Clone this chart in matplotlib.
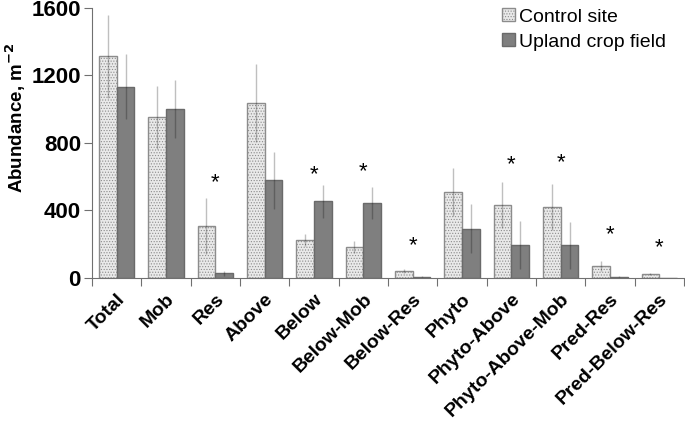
import numpy as np
import matplotlib.pyplot as plt
import matplotlib.transforms as mtransforms

plt.rcParams['font.family'] = ['Liberation Sans', 'DejaVu Sans']
plt.rcParams['hatch.color'] = '#cccccc'
plt.rcParams['hatch.linewidth'] = 0.5

groups = ['Total', 'Mob', 'Res', 'Above', 'Below', 'Below-Mob', 'Below-Res',
          'Phyto', 'Phyto-Above', 'Phyto-Above-Mob', 'Pred-Res', 'Pred-Below-Res']
control = [1314, 952, 310, 1037, 225, 186, 43, 508, 431, 419, 71, 24]
control_err = [245, 187, 165, 232, 34, 35, 12, 143, 135, 137, 30, 6]
upland = [1134, 1003, 28, 579, 454, 444, 8, 292, 197, 194, 6, 0]
upland_err = [193, 172, 14, 170, 99, 97, 4, 146, 142, 140, 3, 0]
# y position of the significance asterisk (None = no star)
star_y = [None, None, 563, None, 615, 628, 190, None, 670, 686, 255, 182]

x = np.arange(len(groups))
w = 0.36

fig = plt.figure(figsize=(6.85, 4.25), dpi=100)
ax = fig.add_axes([0.1343, 0.3459, 0.8642, 0.6353])

ax.bar(x - w/2, control, w, color='#e9e9e9', edgecolor='#8c8c8c', linewidth=1.0,
       hatch='......', label='Control site', zorder=2)
ax.bar(x + w/2, upland, w, color='#7f7f7f', edgecolor='#6a6a6a', linewidth=1.0,
       label='Upland crop field', zorder=2)
ax.errorbar(x - w/2, control, yerr=control_err, fmt='none', ecolor='black',
            alpha=0.25, elinewidth=1.0, capsize=0, zorder=3)
ax.errorbar(x + w/2, upland, yerr=upland_err, fmt='none', ecolor='black',
            alpha=0.25, elinewidth=1.0, capsize=0, zorder=3)

for i, s in enumerate(star_y):
    if s is not None:
        ax.text(x[i], s, '*', ha='center', va='center', fontsize=16)

ax.set_xlim(-0.5, len(groups) - 0.5)
ax.set_ylim(0, 1600)
ax.set_yticks([0, 400, 800, 1200, 1600])
ax.set_xticks(np.arange(len(groups) + 1) - 0.5)
ax.set_xticklabels([])
ax.set_xticks(x, minor=True)
ax.set_xticklabels(groups, minor=True, rotation=45, ha='right', rotation_mode='anchor',
                   fontsize=14, fontweight='bold')
shift = mtransforms.ScaledTranslation(-4/100, 0, fig.dpi_scale_trans)
for lab in ax.xaxis.get_minorticklabels():
    lab.set_transform(lab.get_transform() + shift)
ax.tick_params(axis='x', which='major', direction='out', length=6, color='#707070')
ax.tick_params(axis='x', which='minor', length=0, pad=9)
ax.tick_params(axis='y', direction='out', length=6, color='#707070', labelsize=16, pad=2)
for lab in ax.get_yticklabels():
    lab.set_fontweight('bold')

for side in ['top', 'right']:
    ax.spines[side].set_visible(False)
for side in ['left', 'bottom']:
    ax.spines[side].set_color('#707070')

ax.set_ylabel('Abundance, m$^{\\mathbf{-2}}$', fontsize=13.5, fontweight='bold')
ax.yaxis.set_label_coords(-0.108, 0.593)

ax.legend(loc='upper right', bbox_to_anchor=(0.982, 1.028), frameon=False, fontsize=14,
          handlelength=0.65, handleheight=0.65, handletextpad=0.2, labelspacing=0.4,
          borderaxespad=0.0)

fig.savefig('out.png', dpi=100)
